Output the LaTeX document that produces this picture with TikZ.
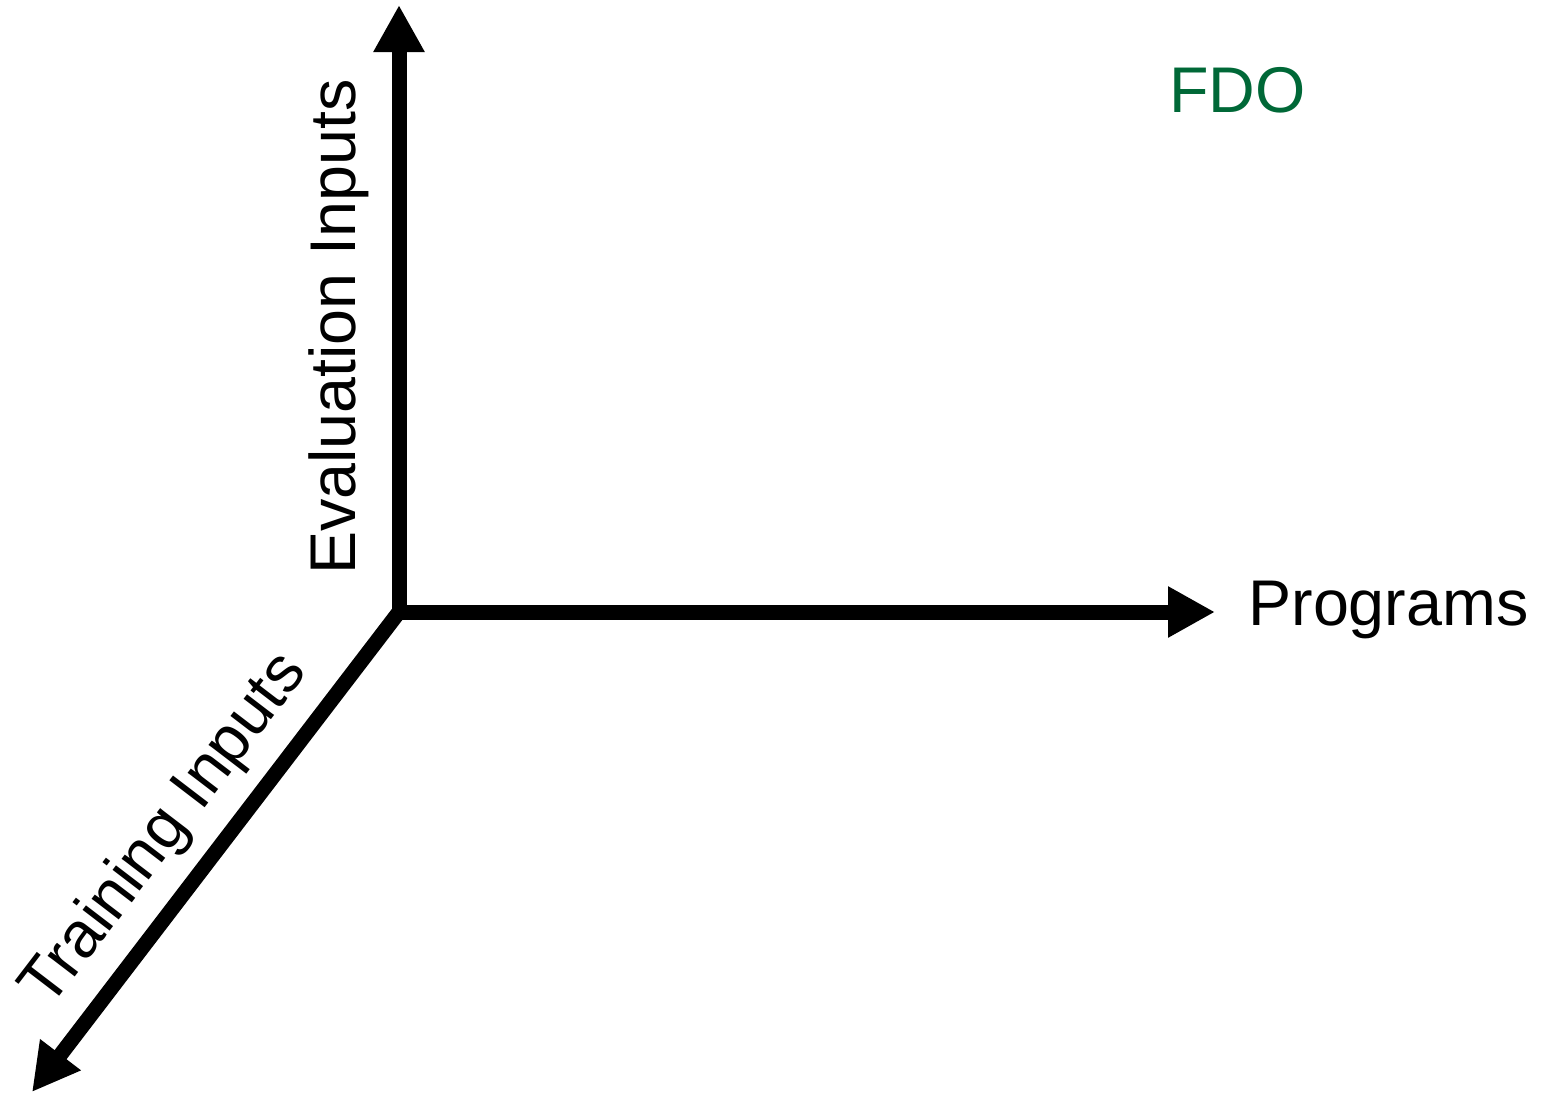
\documentclass[tikz,border=0pt]{standalone}
\usepackage{fontspec}
\setmainfont{Liberation Sans}
\usetikzlibrary{arrows.meta}
\definecolor{fdogreen}{RGB}{0,104,55}
\begin{document}
\begin{tikzpicture}[x=0.5pt,y=-0.5pt,
  axis/.style={line width=7.5pt,-{Triangle[width=24pt,length=23.5pt]}},
  lbl/.style={inner sep=0pt,font=\fontsize{32.3pt}{38pt}\selectfont}]
\useasboundingbox (0,0) rectangle (1548,1093);
\coordinate (o) at (399,612);
\coordinate (ytip) at (399,5);
\coordinate (xtip) at (1215,612);
\coordinate (ztip) at (32,1092);
\draw[axis] (o) -- (xtip);
\draw[axis] (o) -- (ytip);
\draw[axis] (o) -- (ztip);
\node[lbl,anchor=base west] (prog) at (1248,625) {Programs};
\node[lbl,anchor=base,rotate=90] (eval) at (355,327) {Evaluation Inputs};
\node[lbl,anchor=base,rotate=52.6] (train) at (179,841) {Training Inputs};
\node[lbl,anchor=base west,text=fdogreen] (fdo) at (1169,112) {FDO};
\end{tikzpicture}
\end{document}
